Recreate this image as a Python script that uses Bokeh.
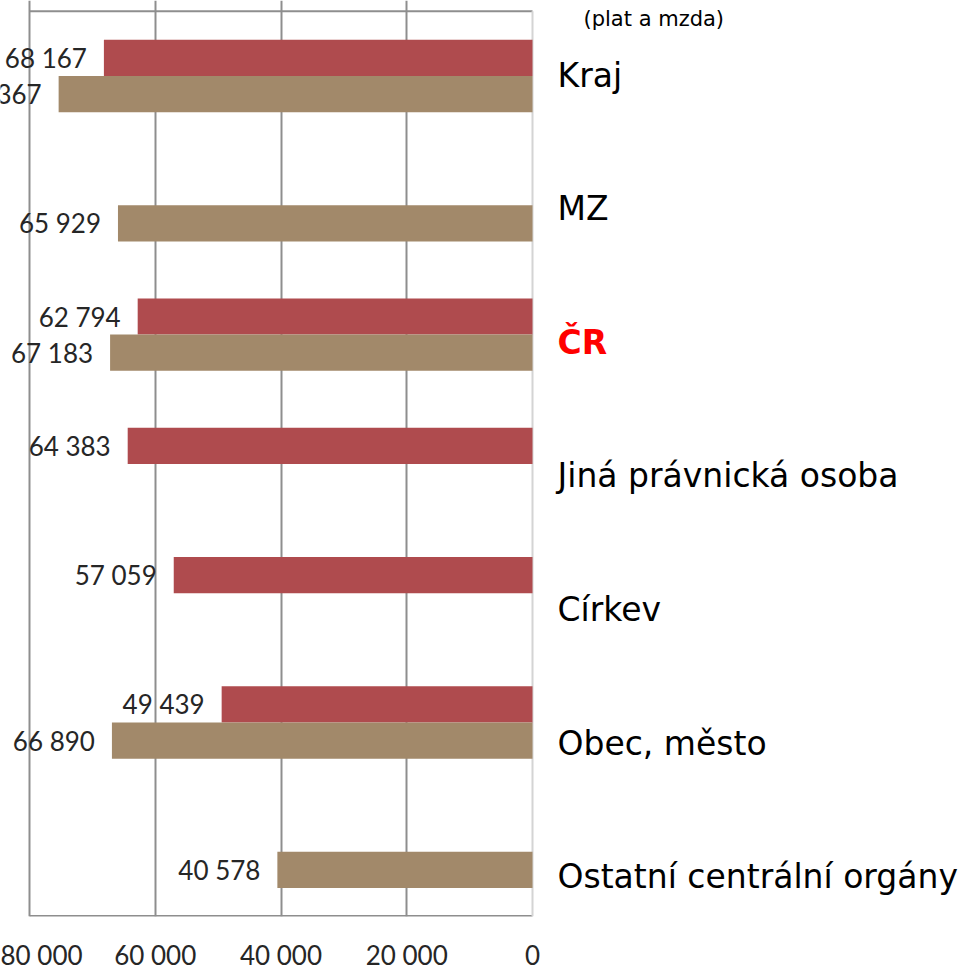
from bokeh.plotting import figure
from bokeh.models import ColumnDataSource, Range1d, FixedTicker
from bokeh.core.properties import value
from bokeh.embed import file_html
from bokeh.resources import INLINE

# ---- data ----
categories = ["Kraj", "MZ", "ČR", "Jiná právnická osoba", "Církev",
              "Obec, město", "Ostatní centrální orgány"]
red_values = [68167, None, 62794, 64383, 57059, 49439, None]
tan_values = [75367, 65929, 67183, None, None, 66890, 40578]
x_ticks = [80000, 60000, 40000, 20000, 0]
highlight = "ČR"
subtitle = "(plat a mzda)"

RED = "#AF4B4E"
TAN = "#A2896A"
GRID = "#8E8E8E"

def fmt(v):
    return f"{v:,}".replace(",", " ")

W, H = 963, 973
PX_PER_UNIT = 125.75 / 20000.0
ZERO_PX = 532
FRAME_TOP_PAD = 11
FRAME_BOTTOM = 928
CAT_PX = (FRAME_BOTTOM - FRAME_TOP_PAD) / 7.0

x_start = ZERO_PX / PX_PER_UNIT
x_end = -(W - ZERO_PX) / PX_PER_UNIT
y_top = -FRAME_TOP_PAD / CAT_PX

p = figure(width=W, height=H, output_backend="svg", toolbar_location=None,
           x_range=Range1d(x_start, x_end),
           y_range=Range1d(len(categories), y_top),
           min_border_left=0, min_border_right=0, min_border_top=0,
           min_border_bottom=H - FRAME_BOTTOM, y_axis_location=None)
p.outline_line_color = None
p.background_fill_color = "white"
p.border_fill_color = "white"

# grid
p.xgrid.ticker = FixedTicker(ticks=x_ticks[:-1])
p.xgrid.grid_line_color = GRID
p.xgrid.grid_line_width = 2
p.ygrid.grid_line_color = None

# frame lines
n = len(categories)
p.segment(x0=[x_ticks[0]], y0=[0], x1=[0], y1=[0], line_color=GRID, line_width=2)
p.segment(x0=[x_ticks[0]], y0=[n], x1=[0], y1=[n], line_color=GRID, line_width=3)
p.segment(x0=[0], y0=[0], x1=[0], y1=[n], line_color="#D4D4D4", line_width=2)

# bars
bw = 0.28
def series(vals, off):
    ys, xs, labels = [], [], []
    for i, v in enumerate(vals):
        if v is not None:
            ys.append(i + 0.5 + off)
            xs.append(v)
            labels.append(fmt(v))
    return ColumnDataSource(dict(y=ys, x=xs, label=labels))

src_red = series(red_values, -bw / 2)
src_tan = series(tan_values, bw / 2)
p.hbar(y="y", left=0, right="x", height=bw, source=src_red, fill_color=RED, line_color=None)
p.hbar(y="y", left=0, right="x", height=bw, source=src_tan, fill_color=TAN, line_color=None)

for src in (src_red, src_tan):
    p.text(x="x", y="y", text="label", source=src, x_offset=-17,
           text_align="right", text_baseline="middle",
           text_font=value("Lato"), text_font_size="26px", text_color="#262626")

# category labels on the right
cat_src = ColumnDataSource(dict(
    x=[0] * n,
    y=[i + 0.5 for i in range(n)],
    yo=[round(4.3 * i) - 1 for i in range(n)],
    text=categories,
    color=["#FF0000" if c == highlight else "#000000" for c in categories],
    style=["bold" if c == highlight else "normal" for c in categories],
))
p.text(x="x", y="y", text="text", source=cat_src, x_offset=25, y_offset="yo",
       text_align="left", text_baseline="middle", text_color="color",
       text_font_style="style", text_font=value("DejaVu Sans"), text_font_size="33px")

p.text(x=[0], y=[y_top], text=[subtitle], x_offset=51, y_offset=18,
       text_align="left", text_baseline="middle", text_color="#000000",
       text_font=value("DejaVu Sans"), text_font_size="21px")

# x axis
ax = p.xaxis[0]
ax.ticker = FixedTicker(ticks=x_ticks)
ax.major_label_overrides = {t: fmt(t) for t in x_ticks}
ax.axis_line_color = None
ax.major_tick_line_color = None
ax.minor_tick_line_color = None
ax.major_tick_out = 0
ax.major_label_standoff = 22
ax.major_label_text_font = "Lato"
ax.major_label_text_font_size = "26px"
ax.major_label_text_color = "#262626"

open("out.html", "w").write(file_html(p, INLINE))
